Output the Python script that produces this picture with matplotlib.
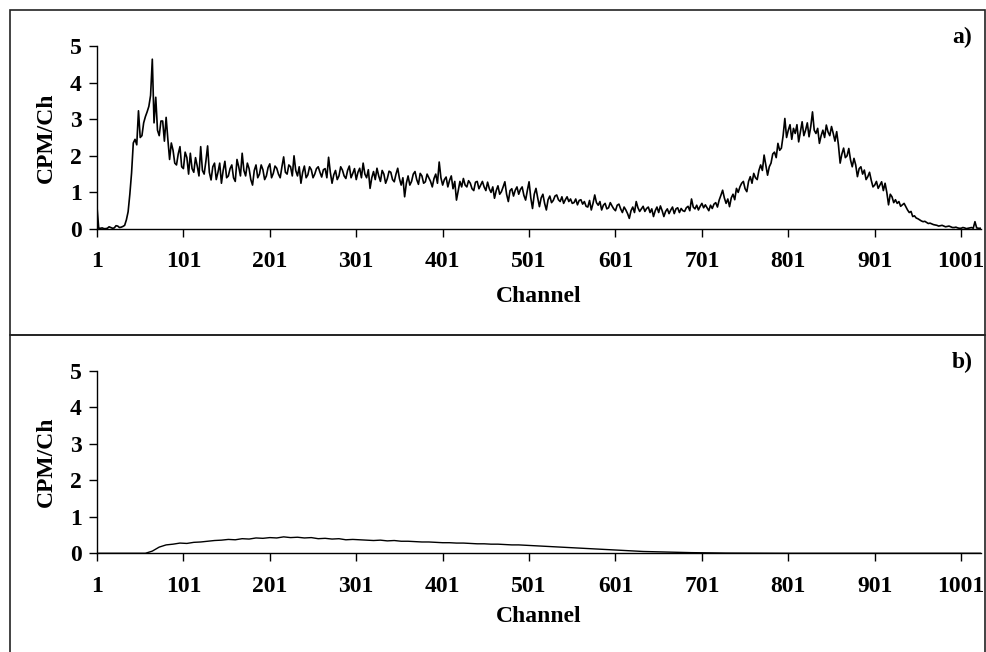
import numpy as np
import matplotlib
matplotlib.use('Agg')
import matplotlib.pyplot as plt
from matplotlib.patches import Rectangle

'''Spectra read off the figure: a) sample, b) background'''

# a): values at channels 1,5,9,...,1021 and at the channels halfway, 3,7,...,1023
cpm_a_4 = [
    0.60, 0.02, 0.01, 0.02, 0.04, 0.03, 0.08, 0.05, 0.10, 0.47, 1.53, 2.45, 3.23, 2.55, 3.07, 3.35,
    4.64, 3.60, 2.55, 2.95, 3.05, 1.90, 2.15, 1.75, 2.25, 1.65, 1.95, 2.07, 1.55, 1.72, 2.25, 1.50,
    2.27, 1.34, 1.80, 1.55, 1.25, 1.85, 1.45, 1.75, 1.30, 1.70, 2.07, 1.45, 1.65, 1.20, 1.75, 1.50,
    1.62, 1.45, 1.78, 1.52, 1.66, 1.40, 1.97, 1.50, 1.70, 2.00, 1.45, 1.25, 1.72, 1.48, 1.62, 1.50,
    1.70, 1.42, 1.65, 1.96, 1.25, 1.60, 1.45, 1.61, 1.38, 1.72, 1.52, 1.35, 1.66, 1.80, 1.40, 1.11,
    1.57, 1.66, 1.30, 1.50, 1.38, 1.55, 1.29, 1.66, 1.20, 0.88, 1.45, 1.30, 1.57, 1.22, 1.45, 1.29,
    1.40, 1.15, 1.50, 1.83, 1.20, 1.42, 1.33, 1.10, 0.79, 1.30, 1.38, 1.15, 1.25, 1.05, 1.30, 1.20,
    1.15, 1.28, 1.00, 0.84, 1.18, 1.02, 1.29, 0.75, 1.10, 1.06, 0.95, 1.15, 0.79, 1.29, 0.56, 1.11,
    0.61, 0.95, 0.52, 0.90, 0.78, 0.93, 0.75, 0.70, 0.88, 0.82, 0.72, 0.66, 0.80, 0.75, 0.60, 0.52,
    0.93, 0.65, 0.52, 0.70, 0.58, 0.63, 0.50, 0.68, 0.45, 0.52, 0.29, 0.60, 0.75, 0.48, 0.62, 0.56,
    0.45, 0.34, 0.60, 0.63, 0.34, 0.55, 0.52, 0.42, 0.58, 0.56, 0.48, 0.62, 0.82, 0.55, 0.52, 0.70,
    0.66, 0.50, 0.56, 0.72, 0.79, 1.06, 0.70, 0.61, 0.95, 1.11, 1.15, 1.30, 1.02, 1.43, 1.52, 1.35,
    1.75, 2.02, 1.47, 1.80, 2.10, 2.34, 2.21, 3.02, 2.70, 2.45, 2.61, 2.38, 2.93, 2.70, 2.52, 3.20,
    2.61, 2.34, 2.70, 2.84, 2.55, 2.61, 2.66, 1.80, 2.21, 2.00, 1.89, 1.93, 1.43, 1.70, 1.61, 1.43,
    1.33, 1.20, 1.11, 1.29, 1.25, 0.66, 0.88, 0.80, 0.75, 0.66, 0.61, 0.45, 0.34, 0.30, 0.25, 0.20,
    0.18, 0.16, 0.12, 0.10, 0.09, 0.08, 0.07, 0.06, 0.04, 0.03, 0.02, 0.03, 0.02, 0.04, 0.20, 0.02]
cpm_a_mid = [
    0.02, 0.03, 0.01, 0.06, 0.02, 0.09, 0.04, 0.07, 0.25, 0.95, 2.35, 2.30, 2.50, 2.90, 3.20, 3.65,
    2.90, 2.70, 2.95, 2.40, 2.45, 2.35, 1.80, 2.05, 1.70, 2.10, 1.50, 1.65, 1.95, 1.45, 1.60, 1.85,
    1.55, 1.70, 1.35, 1.80, 1.60, 1.40, 1.65, 1.40, 1.90, 1.45, 1.60, 1.80, 1.35, 1.60, 1.40, 1.75,
    1.35, 1.68, 1.40, 1.72, 1.50, 1.70, 1.55, 1.75, 1.45, 1.60, 1.70, 1.55, 1.40, 1.70, 1.40, 1.65,
    1.55, 1.62, 1.40, 1.55, 1.48, 1.35, 1.70, 1.45, 1.60, 1.40, 1.65, 1.55, 1.40, 1.50, 1.62, 1.40,
    1.35, 1.45, 1.60, 1.25, 1.58, 1.35, 1.50, 1.38, 1.40, 1.25, 1.20, 1.50, 1.35, 1.52, 1.25, 1.50,
    1.30, 1.38, 1.25, 1.40, 1.35, 1.15, 1.45, 1.30, 1.05, 1.15, 1.20, 1.32, 1.10, 1.28, 1.10, 1.30,
    1.05, 1.10, 1.15, 1.05, 0.95, 1.15, 0.95, 1.05, 0.90, 1.15, 1.08, 0.92, 1.05, 0.85, 0.95, 0.85,
    0.85, 0.70, 0.80, 0.72, 0.90, 0.80, 0.88, 0.80, 0.75, 0.70, 0.82, 0.78, 0.68, 0.62, 0.78, 0.70,
    0.72, 0.75, 0.65, 0.55, 0.72, 0.55, 0.65, 0.55, 0.60, 0.42, 0.50, 0.45, 0.58, 0.55, 0.48, 0.60,
    0.55, 0.50, 0.45, 0.50, 0.48, 0.42, 0.60, 0.55, 0.45, 0.50, 0.58, 0.50, 0.60, 0.65, 0.62, 0.58,
    0.58, 0.65, 0.68, 0.60, 0.92, 0.85, 0.82, 0.85, 0.80, 1.00, 1.25, 1.10, 1.30, 1.25, 1.40, 1.60,
    1.60, 1.75, 1.70, 2.05, 1.95, 2.15, 2.55, 2.50, 2.85, 2.75, 2.85, 2.65, 2.55, 2.90, 2.80, 2.70,
    2.75, 2.55, 2.50, 2.65, 2.80, 2.40, 2.30, 2.05, 1.95, 2.20, 1.70, 1.75, 1.65, 1.50, 1.35, 1.55,
    1.15, 1.30, 1.20, 1.05, 1.00, 0.95, 0.72, 0.70, 0.62, 0.70, 0.52, 0.48, 0.36, 0.28, 0.22, 0.21,
    0.15, 0.14, 0.11, 0.08, 0.10, 0.06, 0.08, 0.04, 0.05, 0.02, 0.04, 0.01, 0.03, 0.02, 0.03, 0.02]
cpm_a_last = 0.02  # channel 1024

# b): values every 8 channels, 1..1017, then channel 1024
cpm_b = [
    0, 0, 0, 0, 0, 0, 0, 0,
    0.06, 0.17, 0.23, 0.25, 0.28, 0.27, 0.30, 0.31,
    0.33, 0.35, 0.36, 0.38, 0.37, 0.40, 0.39, 0.42,
    0.41, 0.43, 0.42, 0.45, 0.43, 0.44, 0.42, 0.43,
    0.40, 0.41, 0.39, 0.40, 0.37, 0.38, 0.37, 0.36,
    0.35, 0.36, 0.34, 0.35, 0.33, 0.33, 0.32, 0.31,
    0.31, 0.30, 0.29, 0.29, 0.28, 0.28, 0.27, 0.26,
    0.26, 0.25, 0.25, 0.24, 0.23, 0.23, 0.22, 0.21,
    0.20, 0.19, 0.18, 0.17, 0.16, 0.15, 0.14, 0.13,
    0.12, 0.11, 0.10, 0.09, 0.08, 0.07, 0.06, 0.05,
    0.045, 0.04, 0.035, 0.03, 0.025, 0.02, 0.018, 0.015,
    0.012, 0.01, 0.008, 0.006, 0.005, 0.004, 0.003, 0.002,
    0.002, 0.001, 0.001, 0, 0, 0, 0, 0,
    0, 0, 0, 0, 0, 0, 0, 0,
    0, 0, 0, 0, 0, 0, 0, 0,
    0, 0, 0, 0, 0, 0, 0, 0,
    0]

xticks = [1, 101, 201, 301, 401, 501, 601, 701, 801, 901, 1001]
yticks = [0, 1, 2, 3, 4, 5]

chan_a = list(range(1, 1024, 2)) + [1024]
cpm_a = list(np.column_stack([cpm_a_4, cpm_a_mid]).ravel()) + [cpm_a_last]
chan_b = list(range(1, 1018, 8)) + [1024]

plt.rcParams['font.family'] = 'Liberation Serif'
plt.rcParams['font.weight'] = 'bold'

W, H = 986, 652
fig = plt.figure(figsize=(W/100, H/100), dpi=100)


def panel(x, y, top_px, bot_px, box_top, box_bot, tag, label_y, lw):
    ax = fig.add_axes([97/W, 1 - bot_px/H, 884/W, (bot_px - top_px)/H])
    ax.plot(x, y, 'k', lw=lw)
    ax.set_xlim(1, 1024)
    ax.set_ylim(0, 5)
    ax.set_xticks(xticks)
    ax.set_yticks(yticks)
    ax.tick_params(direction='out', length=6, width=1, labelsize=17)
    ax.tick_params(axis='x', pad=10)
    ax.tick_params(axis='y', pad=5)
    for s in ['top', 'right']:
        ax.spines[s].set_visible(False)
    for s in ['left', 'bottom']:
        ax.spines[s].set_linewidth(1)
    # outer frame of the panel
    fig.patches.append(Rectangle((10/W, 1 - box_bot/H), 975/W, (box_bot - box_top)/H,
                                 transform=fig.transFigure, fill=False,
                                 edgecolor='#222222', lw=1.2))
    fig.text(46/W, 1 - (top_px + bot_px)/2/H, 'CPM/Ch', rotation=90,
             ha='center', va='center', fontsize=17)
    fig.text(539/W, 1 - label_y/H, 'Channel', ha='center', va='center', fontsize=17)
    fig.text(962/W, 1 - (box_top + 27)/H, tag, ha='center', va='center', fontsize=17)
    return ax


panel(chan_a, cpm_a, 46, 229, 10, 335, 'a)', 296, 1.2)
panel(chan_b, cpm_b, 370.7, 553.3, 335, 670, 'b)', 617, 1.0)

fig.savefig('out.png', dpi=100)
